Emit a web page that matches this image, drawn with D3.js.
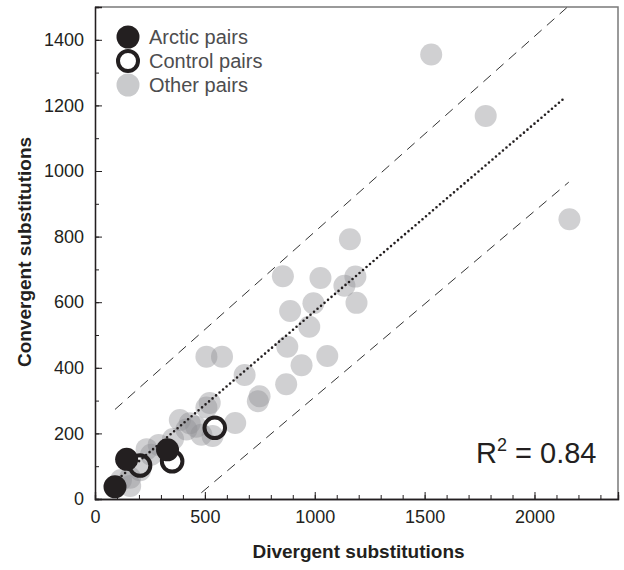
<!DOCTYPE html>
<html>
<head>
<meta charset="utf-8">
<script src="https://cdn.jsdelivr.net/npm/d3@7"></script>
<style>
  body { margin: 0; background: #fff; }
  svg { font-family: "Liberation Sans", Arial, Helvetica, sans-serif; }
</style>
</head>
<body>
<div id="chart"></div>
<script>
// data
var otherX = [1530, 1778, 2159, 1160, 1026, 855, 1185, 1135, 994, 1190, 888, 975, 875, 1057, 940, 870,
              507, 578, 681, 749, 741, 522, 507, 638, 484, 535, 386, 431, 416, 355, 290, 235, 205, 160, 118, 160, 255, 461];
var otherY = [1355, 1168, 853, 792, 674, 679, 678, 650, 597, 598, 573, 525, 464, 436, 408, 350,
              434, 434, 378, 313, 298, 293, 279, 232, 196, 192, 241, 231, 212, 183, 165, 152, 88, 65, 58, 40, 135, 220];
var arcticX = [91, 144, 330];
var arcticY = [37, 121, 150];
var controlX = [205, 351, 545];
var controlY = [102, 115, 217];

// fitted line and band (end points)
var fitX = [121, 2141], fitY = [70, 1225];
var upperX = [91, 2147], upperY = [273, 1498];
var lowerX = [484, 2156], lowerY = [19, 966];

var xTicks = [0, 500, 1000, 1500, 2000];
var yTicks = [0, 200, 400, 600, 800, 1000, 1200, 1400];
var legendLabels = ["Arctic pairs", "Control pairs", "Other pairs"];
var r2Text = "0.84";

var width = 624, height = 570;
var plotLeft = 95, plotRight = 618, plotTop = 7, plotBottom = 499;
var ink = "#231f20";

var svg = d3.select("#chart").append("svg")
            .attr("width", width)
            .attr("height", height);

var x = d3.scaleLinear().domain([0, 2380]).range([plotLeft, plotRight]);
var y = d3.scaleLinear().domain([0, 1500]).range([plotBottom, plotTop]);

// frame top / right
svg.append("path")
   .attr("d", "M" + plotLeft + "," + plotTop + "H" + plotRight + "V" + plotBottom)
   .attr("fill", "none")
   .attr("stroke", "#7a7a7a")
   .attr("stroke-width", 1.5);

// axes, ticks pointing inward
var xMinor = d3.axisBottom(x).tickValues(d3.range(0, 2400, 100)).tickSize(-4).tickFormat("");
var xMajor = d3.axisBottom(x).tickValues(xTicks).tickSize(-7).tickPadding(11).tickFormat(d3.format("d"));
var yMinor = d3.axisLeft(y).tickValues(d3.range(0, 1500, 100)).tickSize(-4).tickFormat("");
var yMajor = d3.axisLeft(y).tickValues(yTicks).tickSize(-7).tickPadding(11).tickFormat(d3.format("d"));

[xMinor, xMajor].forEach(function(a){
    svg.append("g").attr("transform", "translate(0," + plotBottom + ")").call(a);
});
[yMinor, yMajor].forEach(function(a){
    svg.append("g").attr("transform", "translate(" + plotLeft + ",0)").call(a);
});
svg.selectAll(".domain").attr("stroke", ink).attr("stroke-width", 1.3);
svg.selectAll(".tick line").attr("stroke", ink).attr("stroke-width", 1);
svg.selectAll(".tick text").attr("fill", ink).style("font-size", "18px");

// band and fit lines
function line(xs, ys){
    return "M" + x(xs[0]) + "," + y(ys[0]) + "L" + x(xs[1]) + "," + y(ys[1]);
}
svg.append("path").attr("d", line(upperX, upperY))
   .attr("stroke", "#333").attr("stroke-width", 1).attr("stroke-dasharray", "10,7").attr("fill", "none");
svg.append("path").attr("d", line(lowerX, lowerY))
   .attr("stroke", "#333").attr("stroke-width", 1).attr("stroke-dasharray", "10,7").attr("fill", "none");

// points
var grey = svg.append("g");
otherX.forEach(function(d, i){
    grey.append("circle")
        .attr("cx", x(d))
        .attr("cy", y(otherY[i]))
        .attr("r", 11)
        .attr("fill", "#8e9093")
        .attr("fill-opacity", 0.42);
});

svg.append("path").attr("d", line(fitX, fitY))
   .attr("stroke", ink).attr("stroke-width", 2.6).attr("stroke-linecap", "round")
   .attr("stroke-dasharray", "0,4.6").attr("fill", "none");

controlX.forEach(function(d, i){
    svg.append("circle")
       .attr("cx", x(d))
       .attr("cy", y(controlY[i]))
       .attr("r", 10.3)
       .attr("fill", "none")
       .attr("stroke", ink)
       .attr("stroke-width", 4);
});
arcticX.forEach(function(d, i){
    svg.append("circle")
       .attr("cx", x(d))
       .attr("cy", y(arcticY[i]))
       .attr("r", 11.5)
       .attr("fill", ink);
});

// legend
var legend = svg.append("g");
legendLabels.forEach(function(label, i){
    var cy = 37 + i * 24;
    var c = legend.append("circle").attr("cx", 128).attr("cy", cy);
    if (i == 0) {
        c.attr("r", 11.5).attr("fill", ink);
    } else if (i == 1) {
        c.attr("r", 10).attr("fill", "none").attr("stroke", ink).attr("stroke-width", 4);
    } else {
        c.attr("r", 11.5).attr("fill", "#c9cacc");
    }
    legend.append("text")
          .attr("x", 149)
          .attr("y", cy + 7)
          .attr("fill", "#4d4d4f")
          .style("font-size", "20px")
          .text(label);
});

// R squared
var r2 = svg.append("text")
            .attr("x", 476)
            .attr("y", 463)
            .attr("fill", ink)
            .style("font-size", "29px");
r2.append("tspan").text("R");
r2.append("tspan").attr("dy", -12).style("font-size", "18px").text("2");
r2.append("tspan").attr("dy", 12).text(" = " + r2Text);

// axis titles
svg.append("text")
   .attr("x", (plotLeft + plotRight) / 2 + 2)
   .attr("y", 558)
   .attr("text-anchor", "middle")
   .attr("fill", ink)
   .style("font-size", "19px")
   .style("font-weight", "bold")
   .text("Divergent substitutions");

svg.append("text")
   .attr("transform", "translate(31," + 252 + ") rotate(-90)")
   .attr("text-anchor", "middle")
   .attr("fill", ink)
   .style("font-size", "19px")
   .style("font-weight", "bold")
   .text("Convergent substitutions");
</script>
</body>
</html>
